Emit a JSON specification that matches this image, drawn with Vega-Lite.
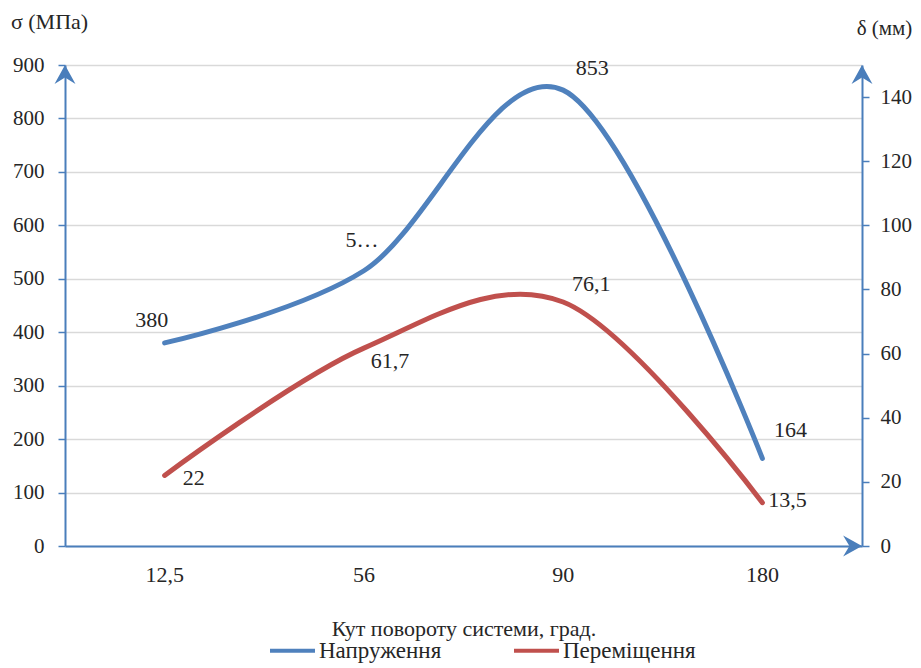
{
  "$schema": "https://vega.github.io/schema/vega-lite/v6.json",
  "width": 797,
  "height": 481,
  "autosize": {"type": "none"},
  "padding": {"left": 65, "top": 65, "right": 59, "bottom": 122},
  "background": "white",
  "config": {
    "font": "Liberation Serif",
    "view": {"stroke": null},
    "text": {"font": "Liberation Serif", "fontSize": 22, "color": "#262626", "align": "center", "baseline": "middle"}
  },
  "datasets": {
    "series": [
      {"angle": "12,5", "series": "Напруження", "value": 380, "label": "380"},
      {"angle": "56", "series": "Напруження", "value": 515, "label": "5…"},
      {"angle": "90", "series": "Напруження", "value": 853, "label": "853"},
      {"angle": "180", "series": "Напруження", "value": 164, "label": "164"},
      {"angle": "12,5", "series": "Переміщення", "value": 22, "label": "22"},
      {"angle": "56", "series": "Переміщення", "value": 61.7, "label": "61,7"},
      {"angle": "90", "series": "Переміщення", "value": 76.1, "label": "76,1"},
      {"angle": "180", "series": "Переміщення", "value": 13.5, "label": "13,5"}
    ],
    "axisEnds": [
      {"angle": "12,5", "axis": "sigma", "value": 900},
      {"angle": "180", "axis": "delta", "value": 150},
      {"angle": "180", "axis": "angle", "value": 0}
    ]
  },
  "encoding": {
    "x": {
      "field": "angle",
      "type": "ordinal",
      "sort": ["12,5", "56", "90", "180"],
      "scale": {"type": "band", "paddingInner": 0, "paddingOuter": 0},
      "axis": {
        "title": "Кут повороту системи, град.",
        "labelFont": "Liberation Serif",
        "labelFontSize": 22,
        "labelColor": "#262626",
        "titleFont": "Liberation Serif",
        "titleFontSize": 22,
        "titleFontWeight": "normal",
        "titleColor": "#262626",
        "labelAngle": 0,
        "ticks": false,
        "labelPadding": 18,
        "titleY": 82,
        "titleBaseline": "middle",
        "domainColor": "#4a7ebb",
        "domainWidth": 2
      }
    }
  },
  "resolve": {"scale": {"y": "independent"}},
  "layer": [
    {
      "data": {"name": "series"},
      "transform": [{"filter": "datum.series === 'Напруження'"}],
      "encoding": {
        "y": {
          "field": "value",
          "type": "quantitative",
          "scale": {"domain": [0, 900], "nice": false},
          "axis": {
            "orient": "left",
            "title": "σ (МПа)",
            "labelFont": "Liberation Serif",
            "labelFontSize": 21,
            "labelColor": "#262626",
            "titleFont": "Liberation Serif",
            "titleFontSize": 22,
            "titleFontWeight": "normal",
            "titleColor": "#262626",
            "titleAngle": 0,
            "titleX": -16,
            "titleY": -44,
            "titleAlign": "center",
            "titleBaseline": "middle",
            "values": [0, 100, 200, 300, 400, 500, 600, 700, 800, 900],
            "tickSize": 7,
            "tickColor": "#4a7ebb",
            "tickWidth": 1.5,
            "labelPadding": 14,
            "domainColor": "#4a7ebb",
            "domainWidth": 2,
            "grid": true,
            "gridColor": "#d9d9d9",
            "gridWidth": 1.5
          }
        }
      },
      "layer": [
        {
          "mark": {"type": "line", "interpolate": "cardinal", "strokeWidth": 5, "strokeCap": "round"},
          "encoding": {
            "color": {
              "field": "series",
              "type": "nominal",
              "scale": {"domain": ["Напруження", "Переміщення"], "range": ["#4f81bd", "#c0504d"]},
              "legend": {
                "orient": "none",
                "legendX": 203,
                "legendY": 561,
                "direction": "horizontal",
                "title": null,
                "symbolType": "stroke",
                "symbolSize": 2025,
                "symbolStrokeWidth": 4,
                "labelFont": "Liberation Serif",
                "labelFontSize": 23,
                "labelColor": "#262626",
                "labelOffset": 2,
                "labelLimit": 300,
                "columnPadding": 64
              }
            }
          }
        },
        {
          "transform": [{"filter": "datum.angle === '12,5'"}],
          "mark": {"type": "text", "dx": -13, "dy": -23},
          "encoding": {"text": {"field": "label"}}
        },
        {
          "transform": [{"filter": "datum.angle === '56'"}],
          "mark": {"type": "text", "dx": -2, "dy": -31},
          "encoding": {"text": {"field": "label"}}
        },
        {
          "transform": [{"filter": "datum.angle === '90'"}],
          "mark": {"type": "text", "dx": 29, "dy": -22},
          "encoding": {"text": {"field": "label"}}
        },
        {
          "transform": [{"filter": "datum.angle === '180'"}],
          "mark": {"type": "text", "dx": 28, "dy": -28},
          "encoding": {"text": {"field": "label"}}
        },
        {
          "data": {"name": "axisEnds"},
          "transform": [{"filter": "datum.axis === 'sigma'"}],
          "mark": {"type": "point", "filled": true, "opacity": 1, "color": "#4a7ebb", "size": 440, "shape": "M0,0 L1,1.8 L0,1.2 L-1,1.8 Z"},
          "encoding": {
            "x": {"field": "angle", "type": "ordinal", "sort": ["12,5", "56", "90", "180"], "bandPosition": 0}
          }
        }
      ]
    },
    {
      "data": {"name": "series"},
      "transform": [{"filter": "datum.series === 'Переміщення'"}],
      "encoding": {
        "y": {
          "field": "value",
          "type": "quantitative",
          "scale": {"domain": [0, 150], "nice": false},
          "axis": {
            "orient": "right",
            "title": "δ (мм)",
            "labelFont": "Liberation Serif",
            "labelFontSize": 21,
            "labelColor": "#262626",
            "titleFont": "Liberation Serif",
            "titleFontSize": 21,
            "titleFontWeight": "normal",
            "titleColor": "#262626",
            "titleAngle": 0,
            "titleX": 22,
            "titleY": -37,
            "titleAlign": "center",
            "titleBaseline": "middle",
            "values": [0, 20, 40, 60, 80, 100, 120, 140],
            "tickSize": 7,
            "tickColor": "#4a7ebb",
            "tickWidth": 1.5,
            "labelPadding": 11,
            "domainColor": "#4a7ebb",
            "domainWidth": 2,
            "grid": false
          }
        }
      },
      "layer": [
        {
          "mark": {"type": "line", "interpolate": "cardinal", "strokeWidth": 5, "strokeCap": "round"},
          "encoding": {"color": {"field": "series", "type": "nominal"}}
        },
        {
          "transform": [{"filter": "datum.angle === '12,5'"}],
          "mark": {"type": "text", "dx": 29, "dy": 3},
          "encoding": {"text": {"field": "label"}}
        },
        {
          "transform": [{"filter": "datum.angle === '56'"}],
          "mark": {"type": "text", "dx": 26, "dy": 13},
          "encoding": {"text": {"field": "label"}}
        },
        {
          "transform": [{"filter": "datum.angle === '90'"}],
          "mark": {"type": "text", "dx": 28, "dy": -18},
          "encoding": {"text": {"field": "label"}}
        },
        {
          "transform": [{"filter": "datum.angle === '180'"}],
          "mark": {"type": "text", "dx": 25, "dy": -3},
          "encoding": {"text": {"field": "label"}}
        },
        {
          "data": {"name": "axisEnds"},
          "transform": [{"filter": "datum.axis === 'delta'"}],
          "mark": {"type": "point", "filled": true, "opacity": 1, "color": "#4a7ebb", "size": 440, "shape": "M0,0 L1,1.8 L0,1.2 L-1,1.8 Z"},
          "encoding": {
            "x": {"field": "angle", "type": "ordinal", "sort": ["12,5", "56", "90", "180"], "bandPosition": 1}
          }
        },
        {
          "data": {"name": "axisEnds"},
          "transform": [{"filter": "datum.axis === 'angle'"}],
          "mark": {"type": "point", "filled": true, "opacity": 1, "color": "#4a7ebb", "size": 440, "shape": "M0,0 L-1.8,1 L-1.2,0 L-1.8,-1 Z"},
          "encoding": {
            "x": {"field": "angle", "type": "ordinal", "sort": ["12,5", "56", "90", "180"], "bandPosition": 1}
          }
        }
      ]
    }
  ]
}
